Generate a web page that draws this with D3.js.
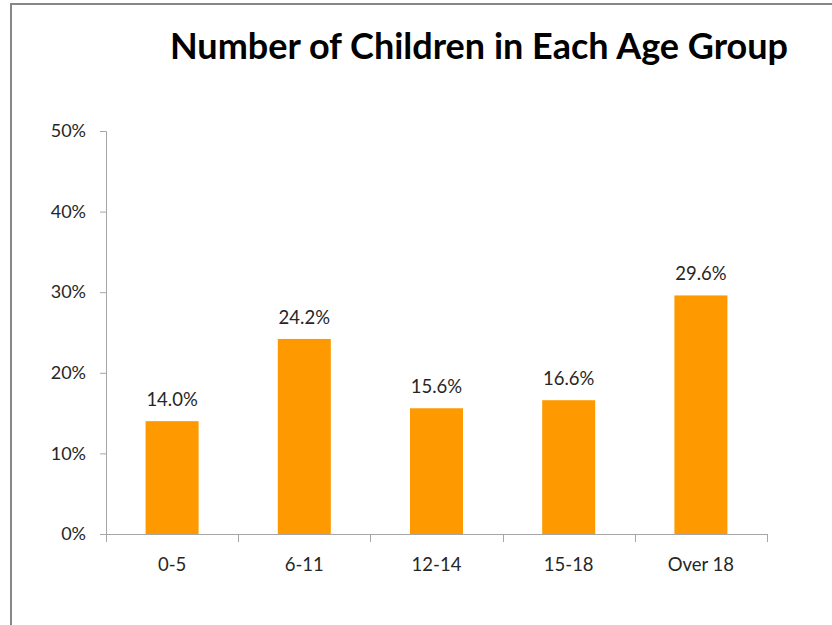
<!DOCTYPE html>
<html>
<head>
<meta charset="utf-8">
<script src="https://cdn.jsdelivr.net/npm/d3@7"></script>
<style>
  body { margin: 0; background: #fff; }
  text { font-family: Lato, "Open Sans", sans-serif; }
</style>
</head>
<body>
<script>
const categories = ['0-5', '6-11', '12-14', '15-18', 'Over 18'];
const values = [0.140, 0.242, 0.156, 0.166, 0.296];
const yTicks = [0, 0.1, 0.2, 0.3, 0.4, 0.5];

const width = 832, height = 625;
const svg = d3.select('body').append('svg')
  .attr('width', width)
  .attr('height', height);

// outer chart border (only left and top visible in the crop)
svg.append('path')
  .attr('d', 'M11,' + height + ' V4 H' + width)
  .attr('fill', 'none')
  .attr('stroke', '#878787')
  .attr('stroke-width', 2);

svg.append('text')
  .attr('x', 479)
  .attr('y', 59)
  .attr('text-anchor', 'middle')
  .style('font-size', '36px')
  .style('font-weight', 'bold')
  .attr('fill', '#000')
  .text('Number of Children in Each Age Group');

const x = d3.scaleBand().domain(categories).range([106, 767]).paddingInner(0).paddingOuter(0);
const y = d3.scaleLinear().domain([0, 0.5]).range([534, 131]);

// y axis
const yAxis = svg.append('g')
  .attr('transform', 'translate(106,0)')
  .call(d3.axisLeft(y).tickValues(yTicks).tickFormat(d3.format('.0%')).tickSize(6).tickPadding(14));
yAxis.select('.domain').attr('stroke', '#a6a6a6').attr('d', 'M-6,131.5H0.5V534.5');
yAxis.selectAll('.tick line').attr('stroke', '#a6a6a6');
yAxis.selectAll('.tick text').attr('fill', '#262626').style('font-size', '18px').style('font-family', 'Lato, sans-serif');

// x axis with ticks on category boundaries
svg.append('line')
  .attr('x1', 106).attr('x2', 767)
  .attr('y1', 534.5).attr('y2', 534.5)
  .attr('stroke', '#a6a6a6');
const bounds = categories.map(c => x(c)).concat([x.range()[1]]);
svg.selectAll('.xtick').data(bounds).enter().append('line')
  .attr('class', 'xtick')
  .attr('x1', d => Math.round(d) + 0.5).attr('x2', d => Math.round(d) + 0.5)
  .attr('y1', 534).attr('y2', 542)
  .attr('stroke', '#a6a6a6');
svg.selectAll('.xlabel').data(categories).enter().append('text')
  .attr('class', 'xlabel')
  .attr('x', d => x(d) + x.bandwidth() / 2)
  .attr('y', 571)
  .attr('text-anchor', 'middle')
  .attr('fill', '#262626')
  .style('font-size', '18.5px')
  .text(d => d);

// bars
const barW = 53;
svg.selectAll('.bar').data(values).enter().append('rect')
  .attr('class', 'bar')
  .attr('x', (d, i) => x(categories[i]) + x.bandwidth() / 2 - barW / 2)
  .attr('y', d => y(d))
  .attr('width', barW)
  .attr('height', d => y(0) - y(d))
  .attr('fill', '#ff9900');

svg.selectAll('.val').data(values).enter().append('text')
  .attr('class', 'val')
  .attr('x', (d, i) => x(categories[i]) + x.bandwidth() / 2)
  .attr('y', d => y(d) - 15)
  .attr('text-anchor', 'middle')
  .attr('fill', '#262626')
  .style('font-size', '18.5px')
  .text(d => d3.format('.1%')(d));
</script>
</body>
</html>
